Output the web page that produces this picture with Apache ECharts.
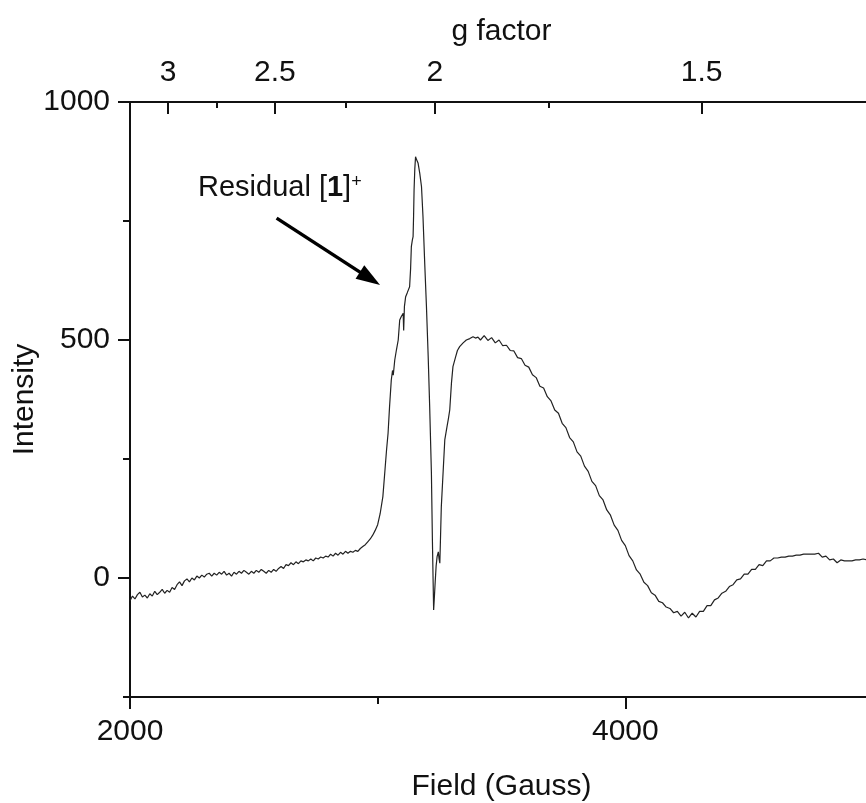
<!DOCTYPE html>
<html><head><meta charset="utf-8">
<script src="https://cdn.jsdelivr.net/npm/echarts@6/dist/echarts.min.js"></script>
<style>html,body{margin:0;padding:0;background:#fff;overflow:hidden}#c{width:866px;height:803px}</style>
</head><body><div id="c"></div>
<script>
// Field values (Gauss)
const fieldGauss = [
2000,2010,2020,2030,2040,2050,2060,2070,2080,2090,
2100,2110,2120,2130,2140,2150,2160,2170,2180,2190,
2200,2210,2220,2230,2240,2250,2260,2270,2280,2290,
2300,2310,2320,2330,2340,2350,2360,2370,2380,2390,
2400,2410,2420,2430,2440,2450,2460,2470,2480,2490,
2500,2510,2520,2530,2540,2550,2560,2570,2580,2590,
2600,2610,2620,2630,2640,2650,2660,2670,2680,2690,
2700,2710,2720,2730,2740,2750,2760,2770,2780,2790,
2800,2810,2820,2830,2840,2850,2860,2870,2880,2890,
2900,2910,2920,2930,2940,2950,2960,2970,2980,2990,
3000,3010,3021,3030,3036,3042,3048,3055,3060,3063,
3069,3076,3083,3089,3096,3103,3105,3108,3113,3120,
3129,3133,3136,3140,3143,3145,3147,3150,3153,3156,
3160,3163,3170,3177,3183,3190,3197,3204,3210,3217,
3221,3224,3226,3229,3232,3236,3240,3245,3248,3251,
3254,3257,3264,3271,3280,3286,3291,3298,3304,3315,
3322,3331,3345,3358,3372,3385,3395,3405,
3415,3430,3445,3460,3475,3490,3505,3520,3535,3550,
3565,3580,3595,3610,3625,3640,3655,3670,3685,3700,
3715,3730,3745,3760,3775,3790,3805,3820,3835,3850,
3865,3880,3895,3910,3925,3940,3955,3970,3985,4000,
4015,4030,4045,4060,4075,4090,4105,4120,4135,4150,
4165,4180,4195,4210,4225,4240,4255,4270,4285,4300,
4315,4330,4345,4360,4375,4390,4405,4420,4435,4450,
4465,4480,4495,4510,4525,4540,4555,4570,4585,4600,
4615,4630,4645,4660,4675,4690,4705,4720,4735,4750,
4765,4780,4795,4810,4825,4840,4855,4870,4885,4900,
4915,4930,4945,4960,4975,4990,5000
];
// Intensity values
const intensity = [
-48,-38,-44,-35,-30,-40,-36,-42,-33,-38,
-28,-35,-30,-24,-32,-26,-30,-20,-24,-14,
-8,-16,-6,-2,-8,0,-4,4,0,6,
2,8,10,4,10,6,12,8,14,6,
10,4,12,8,14,10,16,12,8,14,
10,16,12,18,14,10,16,12,18,14,
20,24,20,28,26,32,28,34,30,36,
34,38,36,40,36,42,40,44,42,46,
44,50,46,52,48,54,50,56,52,56,
54,58,56,62,66,70,76,82,90,100,
112,135,171,230,270,304,360,416,436,426,
458,480,500,542,550,556,520,570,591,600,
612,650,696,710,717,760,815,860,885,880,
876,872,850,822,759,661,570,465,360,220,
80,-10,-67,-40,-11,25,45,55,40,31,
90,150,220,290,318,336,353,410,444,465,
478,486,494,500,503,507,504,506,
500,509,499,505,494,500,488,489,478,477,
463,461,447,443,427,421,403,399,381,372,
353,346,325,316,295,286,265,256,235,224,
203,194,173,164,143,132,111,100,79,68,
47,36,17,8,-9,-16,-31,-36,-49,-52,
-61,-64,-73,-70,-80,-72,-84,-74,-82,-70,
-70,-58,-58,-46,-42,-32,-28,-18,-14,-4,
-2,8,8,18,18,28,26,36,36,42,
42,44,44,46,46,48,48,50,50,50,
50,52,44,46,38,40,32,38,36,36,
36,38,38,40,38,40,40
];
const bottomTickLabels = [2000, 4000];
const leftTickLabels = [0, 500, 1000];
const gFactorLabels = [3, 2.5, 2, 1.5];
const gFactorMinor = [2.75, 2.25, 1.75, 1.25];
const G_TIMES_B = 6462; // g * B (Gauss) for the spectrometer frequency

const FONT = '"Liberation Sans", Arial, Helvetica, sans-serif';
const INK = '#111';
const chart = echarts.init(document.getElementById('c'), null, {renderer: 'canvas'});
const seriesData = fieldGauss.map((b, i) => [b, intensity[i]]);
const gMajorPos = gFactorLabels.map(g => G_TIMES_B / g);
const gMinorPos = gFactorMinor.map(g => G_TIMES_B / g);
const lineSt = {color: INK, width: 2};
const labelSt = {color: INK, fontSize: 30, fontFamily: FONT};
const plain = v => String(v);

const option = {
  animation: false,
  backgroundColor: '#fff',
  grid: {left: 130, top: 102, bottom: 106, right: -7, containLabel: false, outerBoundsMode: 'none'},
  xAxis: [
    {
      type: 'value', position: 'bottom', min: 2000, max: 5000, interval: 1000,
      axisLine: {show: true, onZero: false, lineStyle: lineSt},
      axisTick: {show: true, inside: false, length: 7, lineStyle: lineSt},
      axisLabel: {show: true, customValues: bottomTickLabels, margin: 20, formatter: plain, ...labelSt},
      splitLine: {show: false},
      name: 'Field (Gauss)', nameLocation: 'middle', nameGap: 75, nameMoveOverlap: false,
      nameTextStyle: {...labelSt}
    },
    {
      type: 'value', position: 'bottom', min: 2000, max: 5000,
      axisLine: {show: false, onZero: false},
      axisTick: {show: true, inside: false, length: 12, customValues: bottomTickLabels, lineStyle: lineSt},
      axisLabel: {show: false}, splitLine: {show: false}
    },
    {
      type: 'value', position: 'top', min: 2000, max: 5000,
      axisLine: {show: true, onZero: false, lineStyle: lineSt},
      axisTick: {show: true, inside: true, length: 12, customValues: gMajorPos, lineStyle: lineSt},
      axisLabel: {
        show: true, customValues: gMajorPos, margin: 14, ...labelSt,
        formatter: v => {
          const g = gFactorLabels.find(gg => Math.abs(G_TIMES_B / gg - v) < 1e-6);
          return g === undefined ? '' : String(g);
        }
      },
      splitLine: {show: false},
      name: 'g factor', nameLocation: 'middle', nameGap: 55, nameMoveOverlap: false,
      nameTextStyle: {...labelSt}
    },
    {
      type: 'value', position: 'top', min: 2000, max: 5000,
      axisLine: {show: false, onZero: false},
      axisTick: {show: true, inside: true, length: 6, customValues: gMinorPos, lineStyle: lineSt},
      axisLabel: {show: false}, splitLine: {show: false}
    }
  ],
  yAxis: [
    {
      type: 'value', position: 'left', min: -250, max: 1000, interval: 250,
      axisLine: {show: true, onZero: false, lineStyle: lineSt},
      axisTick: {show: true, inside: false, length: 7, lineStyle: lineSt},
      axisLabel: {show: true, customValues: leftTickLabels, margin: 20, formatter: plain, ...labelSt},
      splitLine: {show: false},
      name: 'Intensity', nameLocation: 'middle', nameGap: 90, nameRotate: 90, nameMoveOverlap: false,
      nameTextStyle: {...labelSt}
    },
    {
      type: 'value', position: 'left', min: -250, max: 1000,
      axisLine: {show: false, onZero: false},
      axisTick: {show: true, inside: false, length: 12, customValues: leftTickLabels, lineStyle: lineSt},
      axisLabel: {show: false}, splitLine: {show: false}
    }
  ],
  series: [{
    type: 'line', xAxisIndex: 0, yAxisIndex: 0,
    data: seriesData, showSymbol: false, symbol: 'none',
    lineStyle: {color: '#222', width: 1.2},
    silent: true,
    markLine: {
      silent: true, animation: false,
      symbol: ['none', 'triangle'], symbolSize: [16, 24],
      lineStyle: {color: '#000', width: 3.5, type: 'solid'},
      itemStyle: {color: '#000'},
      label: {show: false},
      data: [[{coord: [2592, 756]}, {coord: [2969, 629]}]]
    }
  }],
  graphic: [{
    type: 'text',
    style: {
      x: 198, y: 188, verticalAlign: 'middle',
      text: 'Residual [{b|1}]{sup|+}',
      fill: INK, fontSize: 29, fontFamily: FONT,
      rich: {
        b: {fontWeight: 'bold', fontSize: 29, fontFamily: FONT, fill: INK},
        sup: {fontSize: 18, fontFamily: FONT, fill: INK, verticalAlign: 'top'}
      }
    }
  }]
};
chart.setOption(option);
</script>
</body></html>
